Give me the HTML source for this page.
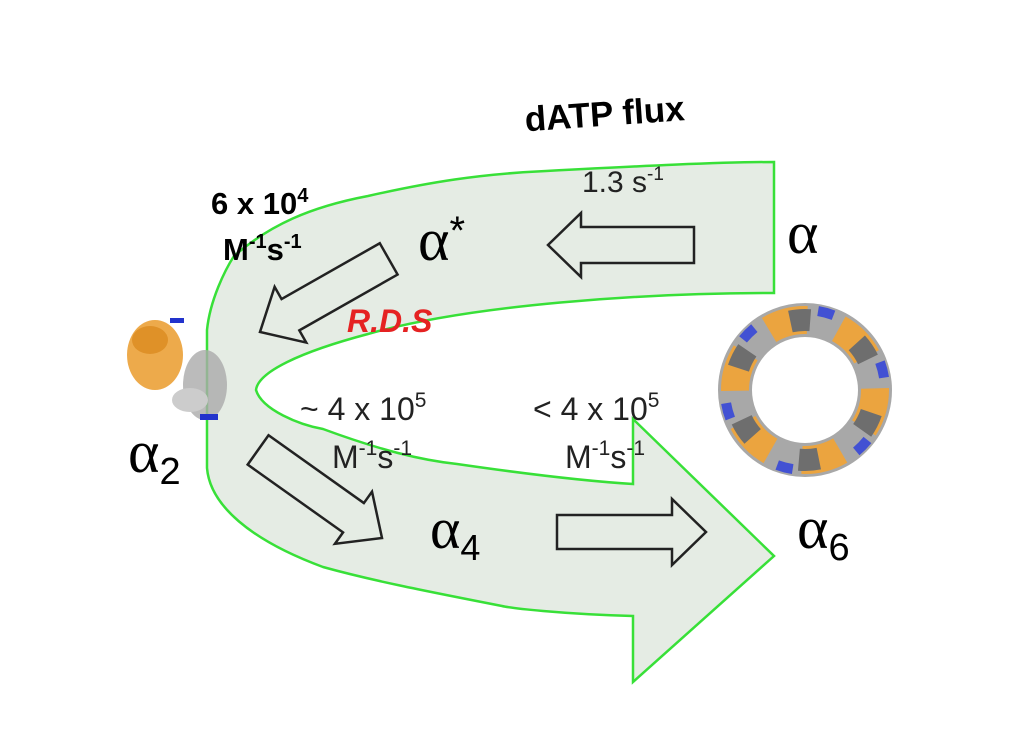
<!DOCTYPE html>
<html><head><meta charset="utf-8"><style>
body{margin:0;background:#fff;}
svg{display:block}
text{font-family:"Liberation Sans",sans-serif;}
.g{font-family:"Liberation Serif",serif;}
</style></head><body>
<svg width="1024" height="731" viewBox="0 0 1024 731" xmlns="http://www.w3.org/2000/svg">
<path d="M774,162 L774,293 C640,293 470,305 368,334 C300,352 258,372 256,390 C262,410 300,425 323,429 C380,450 420,460 457,464 C540,476 600,482 633,484 L633,419 L774,556 L633,682 L633,616 C560,614 510,608 502,606 C420,590 370,580 323,567 C250,540 210,505 207,468 L207,330 C210,300 225,270 234,256 C270,225 310,207 368,196 C430,182 480,174 546,171 C640,166 720,162 774,162 Z" fill="#e5ece4" stroke="#38e038" stroke-width="2.5"/>
<g fill="none" stroke="#222" stroke-width="2.5">
<polygon points="0,-18 -113,-18 -113,18 0,18 0,32 33,0 0,-32" transform="translate(548,245) rotate(180) translate(-33,0)" />
<polygon points="0,-18 -113,-18 -113,18 0,18 0,32 35,0 0,-32" transform="translate(260,332) rotate(150.4) translate(-35,0)" />
<polygon points="0,-18 -117,-18 -117,18 0,18 0,32 35,0 0,-32" transform="translate(382,538) rotate(35.4) translate(-35,0)" />
<polygon points="0,-17 -115,-17 -115,17 0,17 0,33 34,0 0,-33" transform="translate(706,532) translate(-34,0)" />
</g>
<g>
<ellipse cx="155" cy="355" rx="28" ry="35" fill="#e8951e" opacity="0.8"/>
<ellipse cx="150" cy="340" rx="18" ry="14" fill="#d9861a" opacity="0.7"/>
<ellipse cx="205" cy="385" rx="22" ry="35" fill="#aaa" opacity="0.8"/>
<ellipse cx="190" cy="400" rx="18" ry="12" fill="#ccc"/>
<rect x="200" y="414" width="18" height="6" fill="#2233cc"/>
<rect x="170" y="318" width="14" height="5" fill="#2233cc"/>
</g>
<g opacity="0.85">
<circle cx="805" cy="390" r="70" fill="none" stroke="#999" stroke-width="34"/>
<circle cx="805" cy="390" r="70" fill="none" stroke="#e8951e" stroke-width="28" stroke-dasharray="40 33" />
<circle cx="805" cy="390" r="70" fill="none" stroke="#555" stroke-width="22" stroke-dasharray="20 53" stroke-dashoffset="50"/>
<circle cx="805" cy="390" r="80" fill="none" stroke="#2233cc" stroke-width="10" stroke-dasharray="16 68" stroke-dashoffset="30"/>
</g>
<text x="524" y="124" font-size="35" font-weight="bold" transform="rotate(-4 630 105)">dATP flux</text>
<text x="582" y="192" font-size="30" fill="#222">1.3 s<tspan dy="-12" font-size="19">-1</tspan></text>
<text x="211" y="214" font-size="31" font-weight="bold">6 x 10<tspan dy="-12" font-size="20">4</tspan></text>
<text x="223" y="260" font-size="31" font-weight="bold">M<tspan dy="-12" font-size="20">-1</tspan><tspan dy="12">s</tspan><tspan dy="-12" font-size="20">-1</tspan></text>
<text class="g" x="418" y="260" font-size="60">α<tspan dy="-16" font-size="40" font-family="Liberation Sans">*</tspan></text>
<text class="g" x="787" y="253" font-size="60">α</text>
<text x="347" y="332" font-size="32" font-weight="bold" font-style="italic" fill="#e52222">R.D.S</text>
<text x="300" y="420" font-size="32" fill="#222">~ 4 x 10<tspan dy="-13" font-size="21">5</tspan></text>
<text x="332" y="468" font-size="32" fill="#222">M<tspan dy="-13" font-size="21">-1</tspan><tspan dy="13">s</tspan><tspan dy="-13" font-size="21">-1</tspan></text>
<text x="533" y="420" font-size="32" fill="#222">&lt; 4 x 10<tspan dy="-13" font-size="21">5</tspan></text>
<text x="565" y="468" font-size="32" fill="#222">M<tspan dy="-13" font-size="21">-1</tspan><tspan dy="13">s</tspan><tspan dy="-13" font-size="21">-1</tspan></text>
<text class="g" x="128" y="472" font-size="60">α<tspan dy="12" font-size="38" font-family="Liberation Sans">2</tspan></text>
<text class="g" x="430" y="548" font-size="58">α<tspan dy="12" font-size="36" font-family="Liberation Sans">4</tspan></text>
<text class="g" x="797" y="548" font-size="60">α<tspan dy="12" font-size="38" font-family="Liberation Sans">6</tspan></text>
</svg>
</body></html>
